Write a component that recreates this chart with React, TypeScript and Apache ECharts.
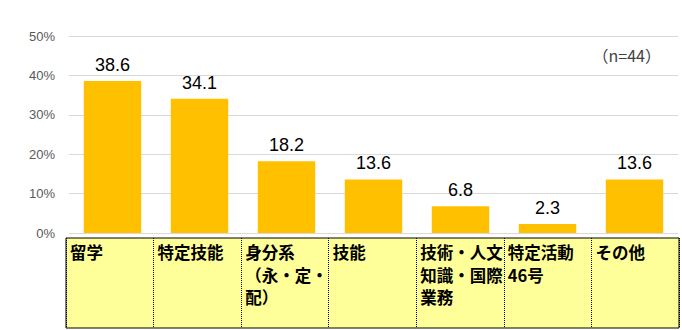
import React, { useEffect, useRef } from "react";
import * as echarts from "echarts";

const categories = [
  "留学",
  "特定技能",
  "身分系\n（永・定・\n配）",
  "技能",
  "技術・人文\n知識・国際\n業務",
  "特定活動\n46号",
  "その他",
];
const values = [38.6, 34.1, 18.2, 13.6, 6.8, 2.3, 13.6];
const yTicks = { min: 0, max: 50, interval: 10 };
const sampleNote = "（n=44）";

export default function App() {
  const ref = useRef<HTMLDivElement>(null);
  useEffect(() => {
    if (!ref.current) return;
    const chart = echarts.init(ref.current, undefined, { renderer: "svg" });
    const cellW = (682 - 66 - 3) / categories.length;
    chart.setOption({
      animation: false,
      backgroundColor: "#ffffff",
      grid: [
        { left: 69, right: 4, top: 36, bottom: 97 },
        {
          left: 66,
          right: 3,
          top: 238,
          bottom: 2,
          show: true,
          backgroundColor: "#FFFF99",
          borderColor: "#000000",
          borderWidth: 1,
        },
      ],
      xAxis: [
        {
          type: "category",
          gridIndex: 0,
          data: categories,
          axisLine: { show: false },
          axisTick: { show: false },
          axisLabel: { show: false },
        },
        {
          type: "category",
          gridIndex: 1,
          position: "top",
          data: categories,
          axisLine: { show: false },
          axisTick: { show: false },
          splitLine: {
            show: true,
            interval: 0,
            lineStyle: { color: "#000000", type: "dotted", width: 1 },
          },
          axisLabel: {
            inside: true,
            interval: 0,
            margin: 0,
            width: cellW - 8,
            overflow: "none",
            padding: [3, 4, 0, 4],
            align: "center",
            verticalAlign: "top",
            formatter: (v: string) => `{a|${v}}`,
            rich: {
              a: {
                align: "left",
                fontSize: 16.5,
                fontWeight: "bold",
                lineHeight: 22.5,
                color: "#000000",
                fontFamily: "'Noto Sans CJK JP', sans-serif",
              },
            },
          },
        },
      ],
      yAxis: [
        {
          type: "value",
          gridIndex: 0,
          min: yTicks.min,
          max: yTicks.max,
          interval: yTicks.interval,
          axisLine: { show: false },
          axisTick: { show: false },
          splitLine: { lineStyle: { color: "#D9D9D9", width: 1 } },
          axisLabel: {
            formatter: "{value}%",
            color: "#595959",
            fontSize: 13,
            margin: 14,
            fontFamily: "'Liberation Sans', Arial, sans-serif",
          },
        },
        { type: "value", gridIndex: 1, show: false },
      ],
      series: [
        {
          type: "bar",
          xAxisIndex: 0,
          yAxisIndex: 0,
          data: values,
          barCategoryGap: "34%",
          itemStyle: { color: "#FFC000" },
          label: {
            show: true,
            position: "top",
            distance: 7,
            color: "#000000",
            fontSize: 18,
            fontFamily: "'Liberation Sans', Arial, sans-serif",
            formatter: (p: any) => Number(p.value).toFixed(1),
          },
        },
      ],
      graphic: [
        {
          type: "text",
          right: 21,
          top: 47,
          style: {
            text: sampleNote,
            fontSize: 16,
            fill: "#404040",
            fontFamily: "'Noto Sans CJK JP', sans-serif",
          },
        },
      ],
    });
    return () => chart.dispose();
  }, []);
  return (
    <div
      ref={ref}
      style={{ position: "fixed", left: 0, top: 0, width: 682, height: 330 }}
    />
  );
}
